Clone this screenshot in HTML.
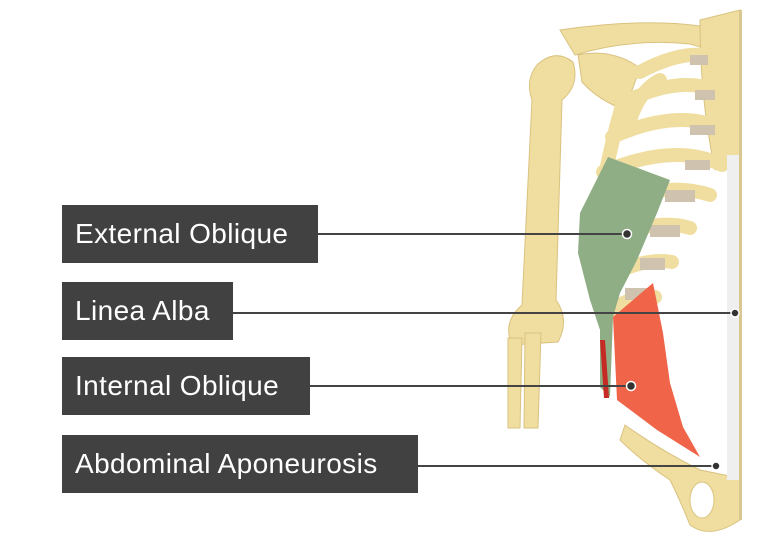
<!DOCTYPE html>
<html><head><style>
body{margin:0;width:770px;height:550px;background:#fff;position:relative;overflow:hidden;font-family:"Liberation Sans",sans-serif}
.l{position:absolute;left:62px;background:#414141;color:#fff;font-size:28px;letter-spacing:0.4px;line-height:58px;padding-left:13px;box-sizing:border-box;height:58px;white-space:nowrap}
svg{position:absolute;left:0;top:0}
</style></head><body>
<svg width="770" height="550">
<g fill="#f0dea0" stroke="#d9c27f" stroke-width="1">
<path d="M537 65 Q555 48 573 62 Q580 85 562 100 L556 300 Q570 320 558 342 L512 345 Q502 322 522 305 L532 100 Q525 80 537 65Z"/>
<path d="M508 338 L522 338 L520 428 L508 428Z"/>
<path d="M525 333 L541 333 L538 428 L524 428Z"/>
<path d="M560 30 Q640 18 700 26 L740 32 L740 58 L690 44 Q630 38 575 55 Z"/>
<path d="M578 55 Q612 48 640 68 L625 110 Q598 100 582 82Z"/>
<path d="M700 20 L740 10 L740 160 L715 170 Q700 100 700 20Z"/>
<path d="M625 425 Q660 450 700 470 L740 478 L740 520 Q710 540 690 525 Q680 500 670 480 Q640 460 620 440Z"/>
</g>
<g fill="none" stroke="#f0dea0" stroke-width="14" stroke-linecap="round">
<path d="M640 72 Q690 45 725 60"/>
<path d="M625 102 Q685 72 725 95"/><path d="M612 137 Q680 107 725 130"/><path d="M603 172 Q675 142 722 165"/>
<path d="M598 207 Q665 180 710 195"/><path d="M600 242 Q655 217 690 228"/><path d="M606 277 Q645 257 672 262"/>
<path d="M615 307 Q640 294 655 297"/>
<path d="M625 95 Q600 180 595 250 Q600 290 612 310"/>
<path d="M660 80 Q640 90 630 120"/>
</g>
<g fill="#cfc2ae"><rect x="690" y="55" width="18" height="10"/><rect x="695" y="90" width="20" height="10"/><rect x="690" y="125" width="25" height="10"/><rect x="685" y="160" width="25" height="10"/><rect x="665" y="190" width="30" height="12"/><rect x="650" y="225" width="30" height="12"/><rect x="640" y="258" width="25" height="12"/><rect x="625" y="288" width="28" height="12"/></g>
<ellipse cx="702" cy="500" rx="12" ry="18" fill="#fff" stroke="#d9c27f"/>
<rect x="727" y="155" width="13" height="325" fill="#efefef"/>
<rect x="739" y="10" width="3" height="510" fill="#d8c88f"/>
<path d="M608 157 L670 180 L657 213 L637 260 L620 293 L613 317 L610 397 L600 387 L600 330 L590 300 L578 253 L580 213 L590 193 Z" fill="#8fae85"/>
<path d="M653 283 L663 333 L670 383 L683 427 L700 457 L657 430 L617 400 L613 317 Z" fill="#f0654a"/>
<path d="M600 340 L604 398 L609 398 L605 340Z" fill="#c62a25"/>
<path d="M612 402 L690 462" stroke="#fff" stroke-width="3"/>
<g stroke="#444" stroke-width="2">
<line x1="318" y1="234" x2="627" y2="234"/><line x1="233" y1="313" x2="735" y2="313"/>
<line x1="310" y1="386" x2="631" y2="386"/><line x1="418" y1="466" x2="716" y2="466"/>
</g>
<g fill="#333" stroke="#fff" stroke-width="1.5">
<circle cx="627" cy="234" r="4.5"/><circle cx="735" cy="313" r="4"/><circle cx="631" cy="386" r="4.5"/><circle cx="716" cy="466" r="4"/>
</g>
</svg>
<div class="l" style="top:205px;width:256px">External Oblique</div>
<div class="l" style="top:282px;width:171px">Linea Alba</div>
<div class="l" style="top:357px;width:248px">Internal Oblique</div>
<div class="l" style="top:435px;width:356px">Abdominal Aponeurosis</div>
</body></html>
